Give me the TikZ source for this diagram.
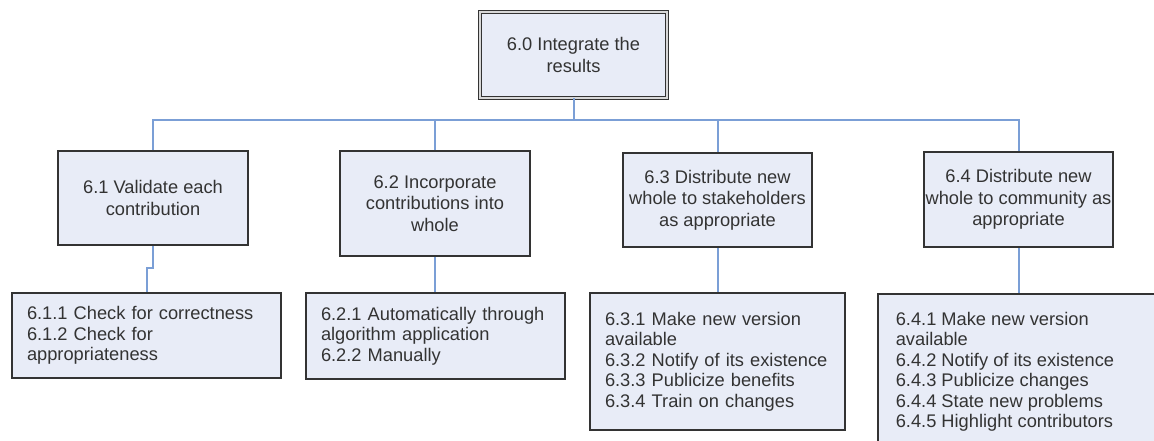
\documentclass[tikz,border=0pt]{standalone}
\usepackage{fontspec}
\setmainfont{Liberation Sans}
\definecolor{boxfill}{HTML}{E8ECF7}
\definecolor{boxline}{HTML}{333333}
\definecolor{linkcol}{HTML}{7B9FD6}
\definecolor{txt}{HTML}{333333}
\definecolor{gapcol}{HTML}{D8D8D8}
\tikzset{
  box/.style={draw=boxline, fill=boxfill, line width=1.2pt, text=txt,
    font=\fontsize{13.7pt}{16pt}\selectfont},
  midbox/.style 2 args={box, align=center, inner sep=0pt,
    minimum width=#1, minimum height=#2},
  leafbox/.style n args={3}{box, align=left, inner xsep=11.25pt, inner ysep=0pt,
    minimum width=#1, minimum height=#2, text width=#3,
    font=\fontsize{13.7pt}{15.4pt}\selectfont},
  topbox/.style={box, align=center, inner sep=0pt, line width=0.9pt,
    double=gapcol, double distance=1.5pt, minimum width=140pt, minimum height=64.2pt},
  link/.style={draw=linkcol, line width=1.5pt}
}
\begin{document}
\begin{tikzpicture}[x=0.75pt,y=-0.75pt]
\fill[white] (0,0) rectangle (1154,441);
\useasboundingbox (0,0) rectangle (1154,441);

\node[topbox] (top) at (573.5,55) {6.0 Integrate the\\results};

\node[midbox={142.5pt}{70.5pt}] (b1) at (153,198) {6.1 Validate each\\contribution};
\node[midbox={142.5pt}{78.75pt}] (b2) at (435,203.5) {6.2 Incorporate\\contributions into\\whole};
\node[midbox={141.75pt}{70.5pt}] (b3) at (717.5,200) {6.3 Distribute new\\whole to stakeholders\\as appropriate};
\node[midbox={141.75pt}{71.25pt}] (b4) at (1018.5,199.5) {6.4 Distribute new\\whole to community as\\appropriate};

\node[leafbox={201.75pt}{63.75pt}{179.25pt}] (c1) at (146.5,335.5)
  {6.1.1 Check for correctness\\6.1.2 Check for\\appropriateness};
\node[leafbox={194.25pt}{64.5pt}{171.75pt}] (c2) at (435.5,336)
  {6.2.1 Automatically through\\algorithm application\\6.2.2 Manually};
\node[leafbox={191.25pt}{102.75pt}{168.75pt}] (c3) at (717.5,361.5)
  {6.3.1 Make new version\\available\\6.3.2 Notify of its existence\\6.3.3 Publicize benefits\\6.3.4 Train on changes};
\node[box, anchor=north west, inner xsep=13.5pt, inner ysep=13.5pt] (c4) at (877,293)
  {\parbox[t][126pt][t]{189pt}{\raggedright\fontsize{13.7pt}{15.4pt}\selectfont
   6.4.1 Make new version\\available\\6.4.2 Notify of its existence\\6.4.3 Publicize changes\\6.4.4 State new problems\\6.4.5 Highlight contributors}};

\coordinate (bus) at (573.5,120);
\draw[link] (top.south) -- (bus);
\draw[link] (b1.north) |- (bus) -| (b4.north);
\draw[link] (b2.north) -- (b2.north |- bus);
\draw[link] (b3.north) -- (b3.north |- bus);

\coordinate (j1) at (153,268);
\draw[link] (b1.south) -- (j1) -| (c1.north);
\draw[link] (b2.south) -- (b2.south |- c2.north);
\draw[link] (b3.south) -- (b3.south |- c3.north);
\draw[link] (b4.south) -- (b4.south |- c4.north);
\end{tikzpicture}
\end{document}
